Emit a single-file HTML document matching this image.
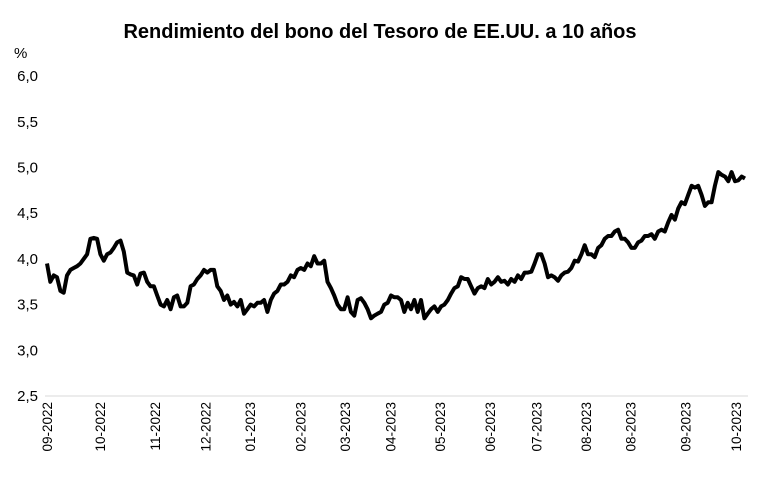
<!DOCTYPE html>
<html><head><meta charset="utf-8"><style>
body{margin:0;background:#fff;font-family:"Liberation Sans",sans-serif}
</style></head><body>
<svg id="chart" width="767" height="485" xmlns="http://www.w3.org/2000/svg" font-family="Liberation Sans, sans-serif">
<rect width="767" height="485" fill="#fff"/>
<text x="380" y="38" text-anchor="middle" font-size="20" font-weight="bold">Rendimiento del bono del Tesoro de EE.UU. a 10 años</text>
<text x="14" y="58" font-size="15">%</text>
<g id="yticks"></g><g id="xticks"></g>
<line x1="45" y1="396" x2="748" y2="396" stroke="#d9d9d9" stroke-width="1"/>
<path id="line" fill="none" stroke="#000" stroke-width="4" stroke-linejoin="round"/>
</svg>
<script>
const yTickLabels=["2,5","3,0","3,5","4,0","4,5","5,0","5,5","6,0"];
const yTickValues=[2.5,3.0,3.5,4.0,4.5,5.0,5.5,6.0];
const xTickLabels=["09-2022","10-2022","11-2022","12-2022","01-2023","02-2023","03-2023","04-2023","05-2023","06-2023","07-2023","08-2023","08-2023","09-2023","10-2023"];
const xTickPos=[0,0.076,0.155,0.227,0.291,0.363,0.427,0.492,0.563,0.635,0.701,0.772,0.836,0.915,0.987];
const yields=[3.95,3.75,3.82,3.80,3.65,3.63,3.82,3.88,3.90,3.92,3.95,4.00,4.05,4.22,4.23,4.22,4.05,3.98,4.05,4.07,4.12,4.18,4.20,4.08,3.85,3.83,3.82,3.72,3.84,3.85,3.75,3.70,3.70,3.60,3.50,3.48,3.55,3.45,3.58,3.60,3.48,3.48,3.52,3.70,3.72,3.78,3.82,3.88,3.85,3.88,3.88,3.70,3.65,3.55,3.60,3.50,3.53,3.48,3.55,3.40,3.45,3.50,3.48,3.52,3.52,3.55,3.42,3.55,3.62,3.65,3.72,3.72,3.75,3.82,3.80,3.88,3.90,3.88,3.95,3.92,4.03,3.95,3.95,3.98,3.75,3.68,3.60,3.50,3.45,3.45,3.58,3.42,3.38,3.55,3.57,3.52,3.45,3.35,3.38,3.40,3.42,3.50,3.52,3.60,3.58,3.58,3.55,3.42,3.52,3.45,3.55,3.42,3.55,3.35,3.40,3.45,3.48,3.42,3.48,3.50,3.55,3.62,3.68,3.70,3.80,3.78,3.78,3.70,3.62,3.68,3.70,3.68,3.78,3.72,3.75,3.80,3.75,3.76,3.72,3.78,3.75,3.82,3.78,3.85,3.85,3.86,3.95,4.05,4.05,3.95,3.80,3.82,3.80,3.76,3.82,3.85,3.86,3.90,3.98,3.97,4.05,4.15,4.05,4.05,4.02,4.12,4.15,4.22,4.25,4.25,4.30,4.32,4.22,4.22,4.18,4.12,4.12,4.18,4.20,4.25,4.25,4.27,4.22,4.30,4.32,4.30,4.40,4.48,4.43,4.55,4.62,4.60,4.70,4.80,4.78,4.80,4.70,4.58,4.62,4.62,4.80,4.95,4.92,4.90,4.85,4.95,4.85,4.86,4.90,4.88];
const X0=47,X1=745,Y0=396,PX=91.4;
const yScale=v=>Y0-(v-2.5)*PX;
const xScale=i=>X0+(X1-X0)*i/(yields.length-1);
const NS="http://www.w3.org/2000/svg";
const yt=document.getElementById('yticks');
yTickValues.forEach((v,i)=>{const t=document.createElementNS(NS,'text');


t.setAttribute('x',38);t.setAttribute('y',yScale(v)+5);t.setAttribute('text-anchor','end');t.setAttribute('font-size','15');t.textContent=yTickLabels[i];yt.appendChild(t);});
const xt=document.getElementById('xticks');
xTickLabels.forEach((l,i)=>{const x=X0+(X1-X0)*xTickPos[i];const t=document.createElementNS(NS,'text');


t.setAttribute('transform',`translate(${x+5},402) rotate(-90)`);t.setAttribute('text-anchor','end');t.setAttribute('font-size','13.5');t.textContent=l;xt.appendChild(t);});
document.getElementById('line').setAttribute('d',yields.map((v,i)=>(i?'L':'M')+xScale(i).toFixed(1)+','+yScale(v).toFixed(1)).join(''));
</script>
</body></html>
